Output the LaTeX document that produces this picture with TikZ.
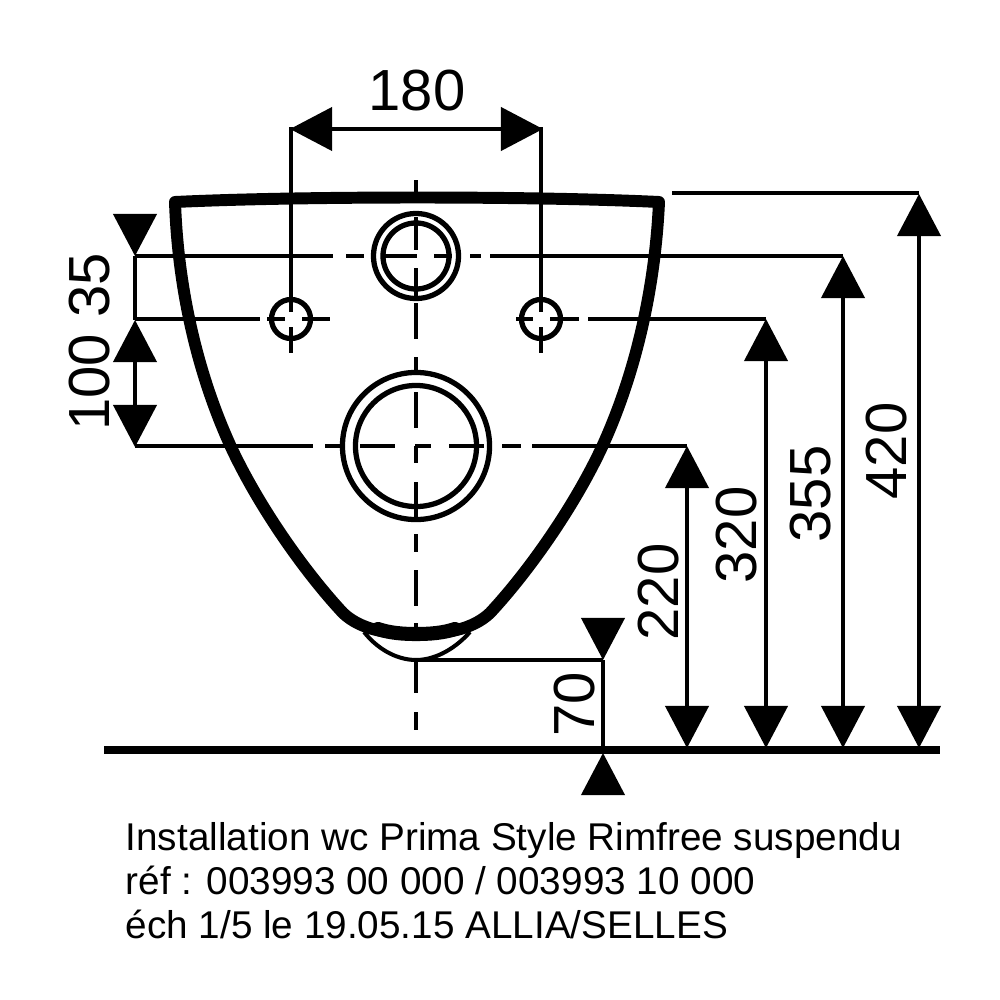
\documentclass[tikz,border=0pt]{standalone}
\usepackage{fontspec}
\setmainfont{Liberation Sans}
\usetikzlibrary{arrows.meta}
\newcommand{\tipsize}{length=4.2mm, width=4.3mm}
\tikzset{
    dimline/.style={line width=1.15pt},
    dimboth/.style={dimline, {Triangle[\tipsize]}-{Triangle[\tipsize]}},
    dimend/.style={dimline, -{Triangle[\tipsize]}},
    bowl/.style={line width=3.4pt, line join=round},
    ring/.style={draw, circle, line width=1.5pt, inner sep=0pt},
    measure/.style={inner sep=0pt, font=\fontsize{16.5}{20}\selectfont},
    updown/.style={measure, rotate=90},
    caption/.style={anchor=base west, inner sep=0pt, font=\fontsize{11}{13}\selectfont}
}

\begin{document}
\begin{tikzpicture}[x=0.01cm, y=-0.01cm]
        \useasboundingbox (0,0) rectangle (1000,1000);

        % the bowl
        \draw[bowl]
            (175,202) .. controls (300,196) and (535,196) .. (659,202)
            .. controls (655,290) and (635,375) .. (602,447)
            .. controls (575,505) and (530,570) .. (490,613)
            .. controls (472,630) and (445,634) .. (416,634)
            .. controls (388,634) and (361,630) .. (343,613)
            .. controls (303,570) and (258,505) .. (231,447)
            .. controls (198,375) and (178,290) .. (175,202)
            -- cycle;
        \draw[line width=4pt, line cap=round]
            (378,629) .. controls (390,633) and (403,634) .. (416,634) .. controls (430,634) and (443,633) .. (455,629);
        \coordinate (lip-left) at (364,632);
        \coordinate (lip-low) at (416,660);
        \coordinate (lip-right) at (470,632);
        \draw[dimline] (lip-left) .. controls (380,652) and (400,660) .. (lip-low) .. controls (432,660) and (452,652) .. (lip-right);

        % holes
        \path
            (416,256) node[ring, minimum size=0.85cm] (flush-outer) {}
            (416,256) node[ring, minimum size=0.66cm] (flush-inner) {}
            (416,446) node[ring, minimum size=1.47cm] (drain-outer) {}
            (416,446) node[ring, minimum size=1.21cm] (drain-inner) {}
            (291,319) node[ring, minimum size=0.39cm] (bolt-left) {}
            (541,319) node[ring, minimum size=0.39cm] (bolt-right) {};

        % axis and broken reference lines
        \draw[dimline]
            (416,180) -- (416,197) (416,217) -- (416,250) (416,268) -- (416,299)
            (416,303) -- (416,339) (416,357) -- (416,372) (416,392) -- (416,428)
            (416,446) -- (416,463) (416,482) -- (416,517) (416,534) -- (416,552)
            (416,570) -- (416,606) (416,623) -- (416,635) (416,660) -- (416,693)
            (416,712) -- (416,730);
        \draw[dimline]
            (135,256) -- (333,256) (346,256) -- (364,256) (381,256) -- (417,256)
            (434,256) -- (452,256) (470,256) -- (481,256) (490,256) -- (843,256);
        \draw[dimline]
            (135,319) -- (260,319) (267,319) -- (285,319) (302,319) -- (330,319)
            (516,319) -- (533,319) (550,319) -- (579,319) (588,319) -- (766,319);
        \draw[dimline]
            (135,446) -- (313,446) (325,446) -- (342,446) (360,446) -- (395,446)
            (415,446) -- (431,446) (449,446) -- (484,446) (502,446) -- (521,446)
            (532,446) -- (687,446);
        \draw[dimline]
            (291,127) -- (291,312) (291,327) -- (291,353)
            (541,127) -- (541,312) (541,327) -- (541,353);
        \draw[dimline] (672,193) -- (919,193);
        \draw[dimline] (lip-low) -- (603,660);

        % ground
        \draw[line width=2pt] (104,750) -- (940,750);

        % dimensions
        \coordinate (top-180-left) at (290,129);
        \coordinate (top-180-right) at (543,129);
        \draw[dimboth] (top-180-left) -- (top-180-right);
        \draw[dimboth] (687,446) -- (687,748);
        \draw[dimboth] (766,319) -- (766,748);
        \draw[dimboth] (843,256) -- (843,748);
        \draw[dimboth] (919,194) -- (919,748);
        \draw[dimboth] (135,320) -- (135,447);
        \draw[dimend] (135,217) -- (135,256);
        \draw[dimline] (135,256) -- (135,320);
        \draw[dimend] (603,618) -- (603,660);
        \draw[dimline] (603,660) -- (603,750);
        \draw[dimend] (603,792) -- (603,753);

        % labels
        \path
            (417,91) node[measure] (d180) {180}
            (90,342) node[updown] (d100-35) {100 35}
            (575,704) node[updown] (d70) {70}
            (659,592) node[updown] (d220) {220}
            (737,535) node[updown] (d320) {320}
            (811,494) node[updown] (d355) {355}
            (887,451) node[updown] (d420) {420};

        \path
            (125,850) node[caption] (line-a) {Installation wc Prima Style Rimfree suspendu}
            (125,894) node[caption] (line-b) {réf : 003993 00 000 / 003993 10 000}
            (125,938) node[caption] (line-c) {éch 1/5 le 19.05.15 ALLIA/SELLES};
\end{tikzpicture}
\end{document}
